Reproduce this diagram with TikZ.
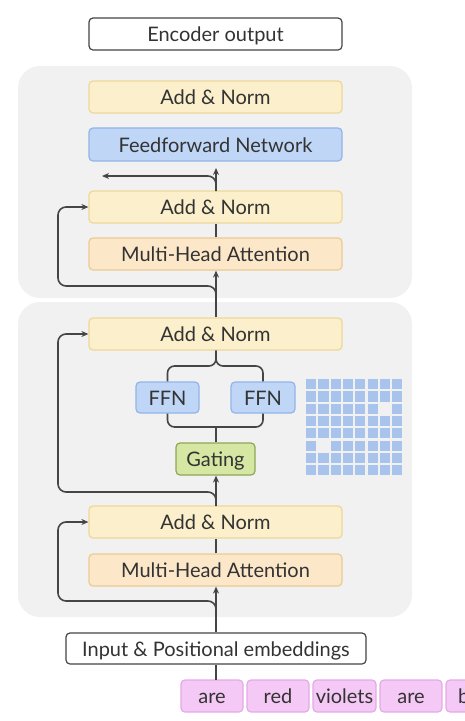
\documentclass[tikz,border=0pt]{standalone}
\usepackage{fontspec}
\setmainfont{Lato}
\usetikzlibrary{arrows.meta}
\definecolor{txt}{HTML}{333333}
\definecolor{ln}{HTML}{454545}
\definecolor{panel}{HTML}{F1F1F1}
\definecolor{anfill}{HTML}{FCEFCB}
\definecolor{anline}{HTML}{EED79A}
\definecolor{mhfill}{HTML}{FCE7C9}
\definecolor{mhline}{HTML}{EBCB92}
\definecolor{bfill}{HTML}{BFD6F6}
\definecolor{bline}{HTML}{92B5E6}
\definecolor{gfill}{HTML}{D5E7A3}
\definecolor{gline}{HTML}{8DA856}
\definecolor{pfill}{HTML}{F5C9F5}
\definecolor{pline}{HTML}{E5AAE5}
\definecolor{grid}{HTML}{A9C4EC}
\tikzset{
  box/.style={rounded corners=4pt, line width=1.2pt, minimum height=32pt, inner sep=0pt,
    text height=15pt, text depth=0pt,
    text=txt, font=\fontsize{20}{23}\selectfont},
  plainbox/.style={box, draw=ln, fill=white},
  anbox/.style={box, draw=anline, fill=anfill, minimum width=253pt},
  mhbox/.style={box, draw=mhline, fill=mhfill, minimum width=253pt},
  bluebox/.style={box, draw=bline, fill=bfill},
  gatebox/.style={box, draw=gline, fill=gfill},
  tokbox/.style={box, draw=pline, fill=pfill, minimum width=62pt},
  conn/.style={draw=ln, line width=1.6pt},
  arr/.style={conn, -{Stealth[length=7pt,width=6pt]}},
  loop/.style={arr, rounded corners=8pt},
  pan/.style={fill=panel, rounded corners=22pt},
  sq/.style={fill=grid}
}
\begin{document}
\begin{tikzpicture}[x=1pt,y=-1pt]
\clip (0,0) rectangle (465,721);
\fill[white] (0,0) rectangle (465,721);
% panels
\path[pan] (18,66) rectangle (412,298);
\path[pan] (18,302) rectangle (412,617);
% nodes
\node[plainbox, minimum width=253pt] (enc) at (215.5,34) {Encoder output};
\node[anbox] (an3) at (215.5,97) {Add \& Norm};
\node[bluebox, minimum width=253pt, minimum height=33pt] (ffnet) at (215.5,144.5) {Feedforward Network};
\node[anbox] (an2) at (215.5,207) {Add \& Norm};
\node[mhbox] (mha2) at (215.5,254) {Multi-Head Attention};
\node[anbox] (an1b) at (215.5,334) {Add \& Norm};
\node[bluebox, minimum width=63pt, minimum height=31pt] (ffnL) at (167.5,397.5) {FFN};
\node[bluebox, minimum width=64pt, minimum height=31pt] (ffnR) at (263,397.5) {FFN};
\node[gatebox, minimum width=79pt] (gate) at (215.5,459) {Gating};
\node[anbox] (an1) at (215.5,522) {Add \& Norm};
\node[mhbox] (mha1) at (215.5,570) {Multi-Head Attention};
\node[plainbox, minimum width=300pt, minimum height=31pt] (inp) at (216,648.5) {Input \& Positional embeddings};
\node[tokbox] (t1) at (212,696) {are};
\node[tokbox] (t2) at (278,696) {red};
\node[tokbox, minimum width=63pt] (t3) at (344.5,696) {violets};
\node[tokbox] (t4) at (411,696) {are};
\node[tokbox] (t5) at (477,696) {blue};
% grid
\foreach \r in {0,...,7}{
  \foreach \c in {0,...,7}{
    \pgfmathtruncatemacro{\skip}{(\r==2 && \c==6) || (\r==5 && \c==1) ? 1 : 0}
    \ifnum\skip=0
      \path[sq] ({306+12.3*\c},{379+12.3*\r}) rectangle ++(10.2,10.2);
    \fi
  }
}
% coordinates
\coordinate (tokTop) at (216,680);
\coordinate (b1) at (216,617);
\coordinate (b2) at (216,506);
\coordinate (b3) at (216,298);
\coordinate (b4) at (216,191);
\coordinate (outTip) at (216,168);
\coordinate (outL) at (102,176);
% connectors
\draw[conn] (tokTop) -- (inp.south -| tokTop);
\draw[arr] (inp.north -| tokTop) -- (mha1.south -| tokTop);
\draw[loop] (b1) -- (216,601) -- (58,601) -- (58,522) -- (an1.west);
\draw[conn] (mha1.north -| tokTop) -- (an1.south -| tokTop);
\draw[arr] (an1.north -| tokTop) -- (gate.south -| tokTop);
\draw[loop] (b2) -- (216,492) -- (58,492) -- (58,334) -- (an1b.west);
\draw[conn] (gate.north -| tokTop) -- (216,427);
\draw[conn, rounded corners=7pt] (ffnL.south) -- (167.5,427) -- (263,427) -- (ffnR.south);
\draw[conn, rounded corners=7pt] (ffnL.north) -- (167.5,366) -- (216,366) -- (an1b.south -| tokTop);
\draw[conn, rounded corners=7pt] (ffnR.north) -- (263,366) -- (216,366) -- (an1b.south -| tokTop);
\draw[arr] (an1b.north -| tokTop) -- (mha2.south -| tokTop);
\draw[loop] (b3) -- (216,286) -- (58,286) -- (58,207) -- (an2.west);
\draw[conn] (mha2.north -| tokTop) -- (an2.south -| tokTop);
\draw[arr] (an2.north -| tokTop) -- (outTip);
\draw[loop] (b4) -- (216,176) -- (outL);
\end{tikzpicture}
\end{document}
